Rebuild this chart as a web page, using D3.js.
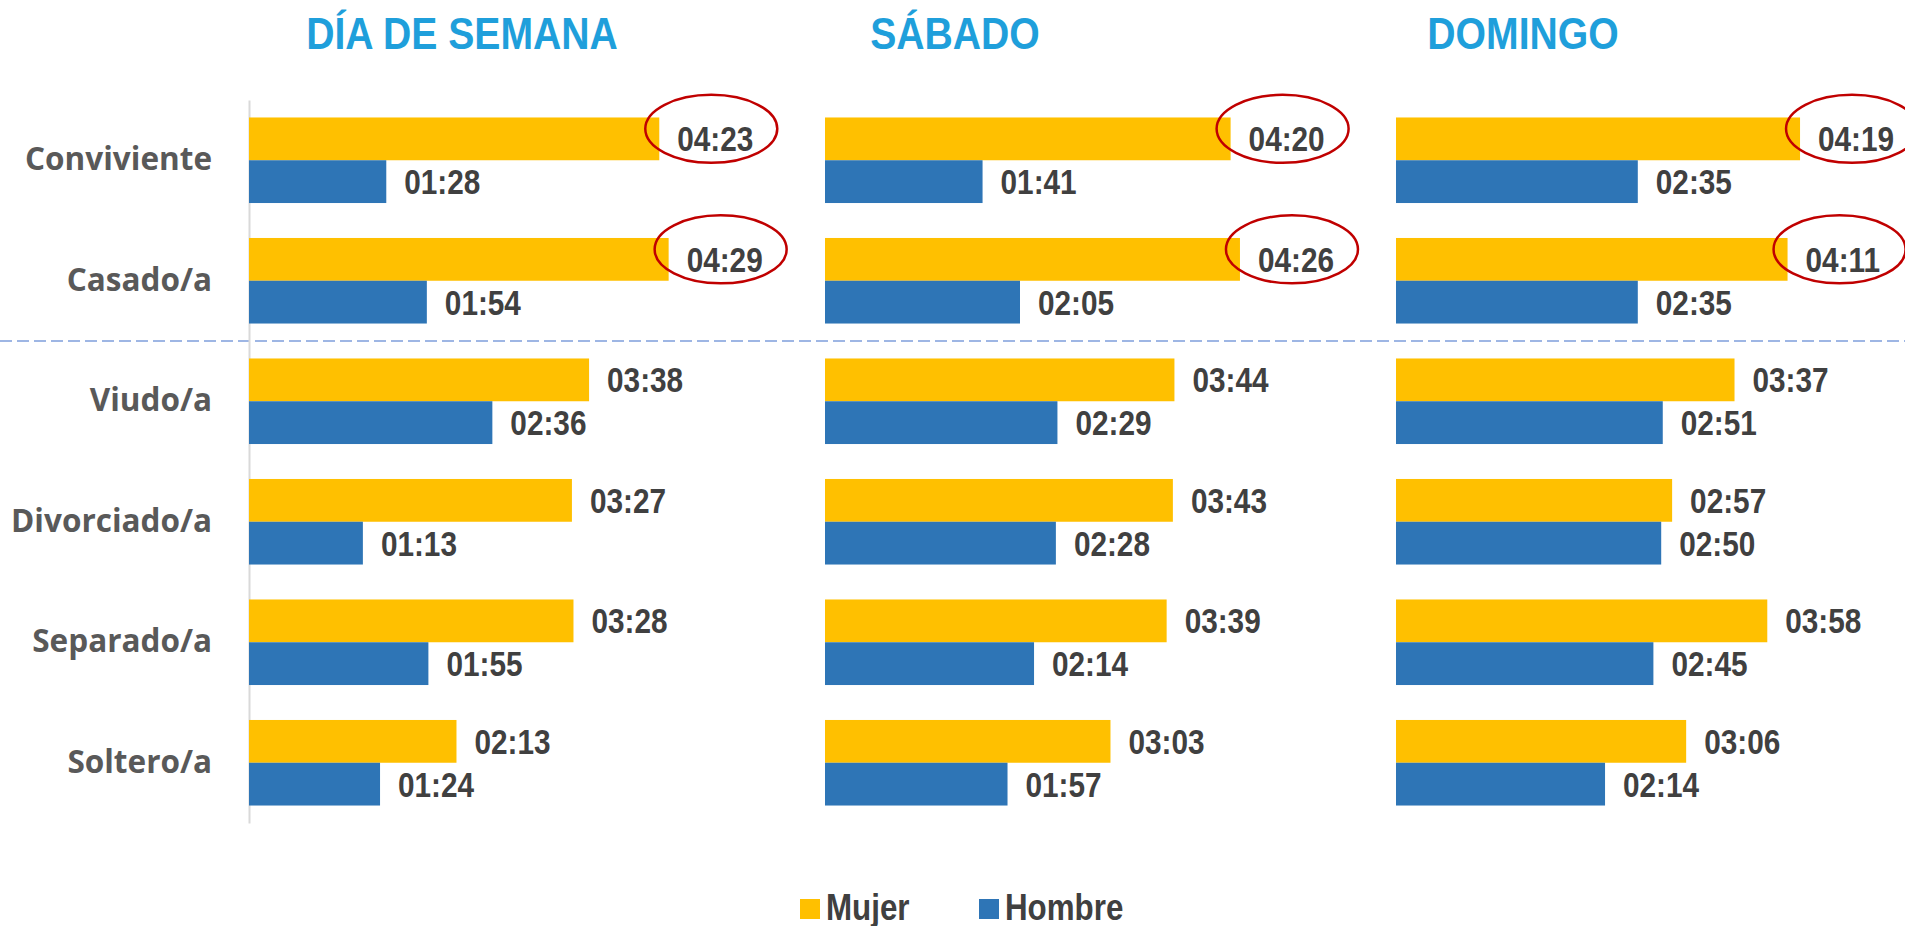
<!DOCTYPE html>
<html>
<head>
<meta charset="utf-8">
<script src="https://cdn.jsdelivr.net/npm/d3@7"></script>
<style>
  body { margin: 0; background: #fff; overflow: hidden; }
</style>
</head>
<body>
<div class="myChart"></div>
<script>
// data
var categories = ["Conviviente", "Casado/a", "Viudo/a", "Divorciado/a", "Separado/a", "Soltero/a"];
var series = ["Mujer", "Hombre"];
var panels = ["DÍA DE SEMANA", "SÁBADO", "DOMINGO"];
var mujerSemana = ["04:23", "04:29", "03:38", "03:27", "03:28", "02:13"];
var hombreSemana = ["01:28", "01:54", "02:36", "01:13", "01:55", "01:24"];
var mujerSabado = ["04:20", "04:26", "03:44", "03:43", "03:39", "03:03"];
var hombreSabado = ["01:41", "02:05", "02:29", "02:28", "02:14", "01:57"];
var mujerDomingo = ["04:19", "04:11", "03:37", "02:57", "03:58", "03:06"];
var hombreDomingo = ["02:35", "02:35", "02:51", "02:50", "02:45", "02:14"];
var highlighted = ["Conviviente", "Casado/a"];

var panelValues = [
  [mujerSemana, hombreSemana],
  [mujerSabado, hombreSabado],
  [mujerDomingo, hombreDomingo]
];

// layout
var width = 1905;
var height = 926;
var panelX = [249, 825, 1396];
var titleX = [462, 955, 1523];
var colors = { Mujer: "#FFC000", Hombre: "#2E75B6" };
// no narrow font installed: squeeze Liberation Sans Bold horizontally
var narrow = "'Liberation Sans', Arial, sans-serif";
var squeeze = 0.85;

function toMinutes(s) {
  var p = s.split(":");
  return +p[0] * 60 + +p[1];
}

// text placed by its transform, then squeezed
function narrowText(sel, size, fill) {
  sel.attr("x", 0).attr("y", 0)
    .style("font-family", narrow)
    .style("font-weight", "bold")
    .style("font-size", size + "px")
    .attr("fill", fill);
}

var xScale = d3.scaleLinear().domain([0, 300]).range([0, 468]);
var yScale = d3.scaleBand()
  .domain(categories)
  .range([100, 823])
  .paddingInner(0.29)
  .paddingOuter(0.145);
var sScale = d3.scaleBand()
  .domain(series)
  .range([0, yScale.bandwidth()]);

var svg = d3.select(".myChart").append("svg")
  .attr("width", width)
  .attr("height", height);

// dashed separator between the two groups
var sepY = yScale(categories[2]) - yScale.step() * yScale.paddingInner() / 2;
svg.append("line")
  .attr("x1", 0).attr("x2", width)
  .attr("y1", sepY).attr("y2", sepY)
  .attr("stroke", "#7F9FDB")
  .attr("stroke-width", 1.5)
  .attr("stroke-dasharray", "12,5");

// category axis (first panel only)
var yAxis = d3.axisLeft(yScale).tickSize(0).tickSizeOuter(0).tickPadding(37);
var axisG = svg.append("g")
  .attr("transform", "translate(" + panelX[0] + ",0)")
  .call(yAxis);
axisG.select(".domain").attr("stroke", "#D9D9D9").attr("stroke-width", 2);
axisG.selectAll("text")
  .style("font-family", "'Open Sans', sans-serif")
  .style("font-weight", "bold")
  .style("font-size", "31.5px")
  .attr("fill", "#595959");

panels.forEach(function(title, p) {
  svg.append("text")
    .attr("transform", "translate(" + titleX[p] + ",49) scale(0.87,1)")
    .attr("text-anchor", "middle")
    .call(narrowText, 45, "#1F9FDB")
    .text(title);

  var g = svg.append("g").attr("transform", "translate(" + panelX[p] + ",0)");

  var rows = [];
  categories.forEach(function(c, i) {
    series.forEach(function(s, j) {
      rows.push({ cat: c, ser: s, label: panelValues[p][j][i], value: toMinutes(panelValues[p][j][i]) });
    });
  });

  g.selectAll("rect")
    .data(rows)
    .enter()
    .append("rect")
    .attr("x", 0)
    .attr("y", function(d) { return yScale(d.cat) + sScale(d.ser); })
    .attr("width", function(d) { return xScale(d.value); })
    .attr("height", sScale.bandwidth())
    .style("fill", function(d) { return colors[d.ser]; });

  g.selectAll("text.lbl")
    .data(rows)
    .enter()
    .append("text")
    .attr("class", "lbl")
    .attr("transform", function(d) {
      return "translate(" + (xScale(d.value) + 18) + "," +
        (yScale(d.cat) + sScale(d.ser) + sScale.bandwidth() / 2) + ") scale(" + squeeze + ",1)";
    })
    .attr("dy", "0.36em")
    .call(narrowText, 35, "#404040")
    .text(function(d) { return d.label; });

  g.selectAll("ellipse")
    .data(rows.filter(function(d) { return d.ser === "Mujer" && highlighted.indexOf(d.cat) >= 0; }))
    .enter()
    .append("ellipse")
    .attr("cx", function(d) { return xScale(d.value) + 52; })
    .attr("cy", function(d) { return yScale(d.cat) + sScale(d.ser) + sScale.bandwidth() / 2 - 10; })
    .attr("rx", 66)
    .attr("ry", 34)
    .attr("fill", "none")
    .attr("stroke", "#C00000")
    .attr("stroke-width", 2.5);
});

// legend
var legend = svg.selectAll("g.legend")
  .data(series)
  .enter()
  .append("g")
  .attr("class", "legend")
  .attr("transform", function(d, i) { return "translate(" + (800 + i * 179) + ",899)"; });
legend.append("rect")
  .attr("width", 20)
  .attr("height", 20)
  .style("fill", function(d) { return colors[d]; });
legend.append("text")
  .attr("transform", "translate(26,21) scale(0.87,1)")
  .call(narrowText, 36, "#404040")
  .text(function(d) { return d; });
</script>
</body>
</html>
